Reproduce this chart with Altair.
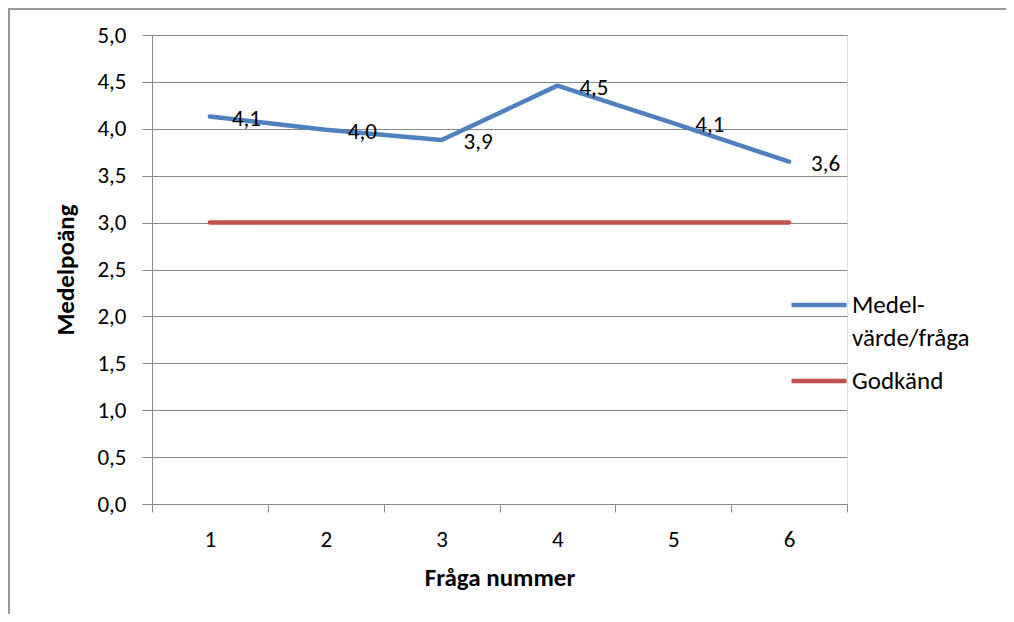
import altair as alt
import pandas as pd

questions = [1, 2, 3, 4, 5, 6]
medel = [4.13, 3.99, 3.88, 4.46, 4.06, 3.65]
godkand = [3.0, 3.0, 3.0, 3.0, 3.0, 3.0]
series_names = ["Medelvärde/fråga", "Godkänd"]
series_colors = ["#4F81BD", "#C0504D"]
y_ticks = [0, 0.5, 1, 1.5, 2, 2.5, 3, 3.5, 4, 4.5, 5]
x_ticks = [0.5, 1, 1.5, 2, 2.5, 3, 3.5, 4, 4.5, 5, 5.5, 6, 6.5]

rows = []
for q, v in zip(questions, medel):
    rows.append({"q": q, "v": v, "s": series_names[0], "lab": f"{v:.1f}".replace(".", ",")})
for q, v in zip(questions, godkand):
    rows.append({"q": q, "v": v, "s": series_names[1], "lab": ""})
df = pd.DataFrame(rows)

FONT = "Carlito, Calibri, Lato, sans-serif"
GRAY = "#888888"
FS = 23
TFS = 25

x = alt.X("q:Q", scale=alt.Scale(domain=[0.5, 6.5], nice=False, zero=False),
          axis=alt.Axis(values=x_ticks, title="Fråga nummer", grid=False,
                        labelExpr="datum.value % 1 == 0 ? format(datum.value, 'd') : ''",
                        tickOpacity={"condition": {"test": "datum.value % 1 == 0", "value": 0}, "value": 1},
                        tickSize=8, tickColor=GRAY, domainColor=GRAY,
                        labelFontSize=FS, labelPadding=16, labelOverlap=False,
                        titleFontSize=TFS, titleFontWeight="bold", titlePadding=14,
                        labelFont=FONT, titleFont=FONT, labelColor="black", titleColor="black"))
y = alt.Y("v:Q", scale=alt.Scale(domain=[0, 5], nice=False),
          axis=alt.Axis(values=y_ticks, title="Medelpoäng",
                        labelExpr="replace(format(datum.value, '.1f'), '.', ',')",
                        tickSize=10, tickColor=GRAY, domainColor=GRAY, gridColor=GRAY,
                        labelFontSize=FS, labelPadding=16, titleFontSize=TFS,
                        titleFontWeight="bold", titlePadding=18,
                        labelFont=FONT, titleFont=FONT, labelColor="black", titleColor="black"))

color = alt.Color("s:N", scale=alt.Scale(domain=series_names, range=series_colors),
                  legend=alt.Legend(title=None, orient="none", legendX=637, legendY=240,
                                    symbolType="stroke", symbolSize=3025, symbolStrokeWidth=4.5,
                                    labelFontSize=TFS, labelFont=FONT, labelColor="black",
                                    labelLimit=300, labelOffset=3, rowPadding=0,
                                    labelExpr="datum.label == 'Medelvärde/fråga' ? ['Medel-', 'värde/fråga'] : datum.label"))

lines = alt.Chart(df).mark_line(strokeWidth=4.5, strokeCap="round", strokeJoin="round").encode(
    x=x, y=y, color=color, detail="s:N")

labels = alt.Chart(df).transform_filter(alt.datum.s == series_names[0]).mark_text(
    align="left", baseline="middle", dx=22, dy=2, fontSize=FS, font=FONT, color="black").encode(
    x="q:Q", y="v:Q", text="lab:N")

frame_top = alt.Chart(df).mark_rule(color="#999999", strokeWidth=1.5).encode(
    x=alt.value(-144), x2=alt.value(854), y=alt.value(-26))
frame_left = alt.Chart(df).mark_rule(color="#999999", strokeWidth=1.5).encode(
    x=alt.value(-143.5), y=alt.value(-26), y2=alt.value(600))

chart = alt.layer(frame_top, frame_left, lines, labels).properties(
    width=695, height=469,
    padding={"left": 144, "top": 27, "right": 159, "bottom": 110},
    autosize=alt.AutoSizeParams(type="none"),
).configure_view(stroke=None).configure(background="white",
    style={"guide-label": {"lineHeight": 33}})

chart.save("out.html", embed_options={"renderer": "svg", "actions": False})
